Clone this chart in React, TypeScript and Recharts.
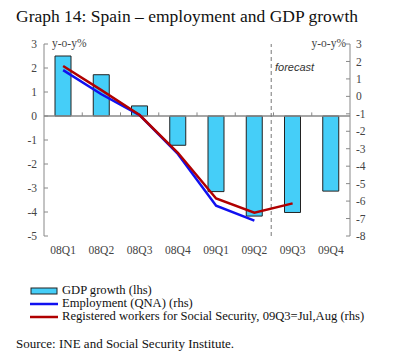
import { ComposedChart, Bar, Line, XAxis, YAxis, ReferenceLine } from "recharts";

const quarters = ["08Q1", "08Q2", "08Q3", "08Q4", "09Q1", "09Q2", "09Q3", "09Q4"];
const gdpGrowth = [2.5, 1.72, 0.42, -1.22, -3.15, -4.17, -4.02, -3.13];
const employment = [1.5, 0.12, -1.07, -3.3, -6.26, -7.12, null, null];
const registered = [1.74, 0.36, -1.07, -3.23, -5.85, -6.66, -6.13, null];
const leftTicks = [3, 2, 1, 0, -1, -2, -3, -4, -5];
const rightTicks = [3, 2, 1, 0, -1, -2, -3, -4, -5, -6, -7, -8];
const boundaries = [1, 2, 3, 4, 5, 6, 7];
const forecastAt = 5.94;

const font = "'Liberation Serif', 'DejaVu Serif', serif";
const axisGray = "#888";
const textGray = "#444";

const data = quarters.map((q, i) => ({
  pos: i + 0.5,
  name: q,
  gdp: gdpGrowth[i],
  emp: employment[i],
  reg: registered[i],
}));

export default function App() {
  return (
    <div style={{ position: "absolute", left: 0, top: 0, width: 400, height: 361, background: "#fff", fontFamily: font }}>
      <div style={{ position: "absolute", left: 16, top: 6, fontSize: 17.5, color: "#111", whiteSpace: "nowrap" }}>
        Graph 14: Spain – employment and GDP growth
      </div>

      <div style={{ position: "absolute", left: 0, top: 0 }}>
        <ComposedChart width={400} height={260} data={data} margin={{ top: 44, right: 10, left: 10, bottom: 4 }}>
          <XAxis
            dataKey="pos"
            type="number"
            domain={[0, 8]}
            ticks={data.map((d) => d.pos)}
            interval={0}
            tickFormatter={(v: number) => quarters[Math.round(v - 0.5)]}
            axisLine={false}
            tickLine={false}
            tickSize={0}
            tickMargin={10}
            height={20}
            tick={{ fill: textGray, fontSize: 11.5, fontFamily: font }}
          />
          <YAxis
            yAxisId="left"
            domain={[-5, 3]}
            ticks={leftTicks}
            interval={0}
            width={34}
            tickSize={-4}
            tickMargin={11}
            stroke={axisGray}
            tick={{ fill: textGray, fontSize: 11.5, fontFamily: font }}
          />
          <YAxis
            yAxisId="right"
            orientation="right"
            domain={[-8, 3]}
            ticks={rightTicks}
            interval={0}
            width={40}
            tickSize={-4}
            tickMargin={10}
            stroke={axisGray}
            tick={{ fill: textGray, fontSize: 11.5, fontFamily: font }}
          />
          <ReferenceLine yAxisId="left" y={0} stroke={axisGray} strokeWidth={1.5} />
          {boundaries.map((b) => (
            <ReferenceLine
              key={b}
              yAxisId="left"
              segment={[{ x: b, y: 0 }, { x: b, y: 0.15 }]}
              stroke={axisGray}
            />
          ))}
          <ReferenceLine yAxisId="left" x={forecastAt} stroke="#777" strokeDasharray="4 3" />
          <Bar yAxisId="left" dataKey="gdp" barSize={16} fill="#45CEF8" stroke="#222" strokeWidth={1} isAnimationActive={false} />
          <Line yAxisId="right" dataKey="emp" stroke="#1010F0" strokeWidth={2.5} dot={false} connectNulls={false} isAnimationActive={false} />
          <Line yAxisId="right" dataKey="reg" stroke="#B00000" strokeWidth={2.5} dot={false} connectNulls={false} isAnimationActive={false} />
        </ComposedChart>
      </div>

      <div style={{ position: "absolute", left: 52, top: 37, fontSize: 11.5, color: textGray }}>y-o-y%</div>
      <div style={{ position: "absolute", right: 54, top: 37, fontSize: 11.5, color: textGray }}>y-o-y%</div>
      <div style={{ position: "absolute", left: 275, top: 61, fontSize: 11, fontStyle: "italic", color: "#333", fontFamily: "'Liberation Sans', Arial, sans-serif" }}>forecast</div>

      <div style={{ position: "absolute", left: 30, top: 284, fontSize: 12.6, color: "#111", lineHeight: "13px" }}>
        <div style={{ display: "flex", alignItems: "center" }}>
          <svg width={30} height={13}>
            <rect x={1} y={4} width={26} height={6} fill="#45CEF8" stroke="#222" strokeWidth={1} />
          </svg>
          <span style={{ marginLeft: 2 }}>GDP growth (lhs)</span>
        </div>
        <div style={{ display: "flex", alignItems: "center" }}>
          <svg width={30} height={13}>
            <line x1={0} y1={7} x2={28} y2={7} stroke="#1010F0" strokeWidth={2.5} />
          </svg>
          <span style={{ marginLeft: 2 }}>Employment (QNA) (rhs)</span>
        </div>
        <div style={{ display: "flex", alignItems: "center" }}>
          <svg width={30} height={13}>
            <line x1={0} y1={7} x2={28} y2={7} stroke="#B00000" strokeWidth={2.5} />
          </svg>
          <span style={{ marginLeft: 2, whiteSpace: "nowrap" }}>Registered workers for Social Security, 09Q3=Jul,Aug (rhs)</span>
        </div>
      </div>

      <div style={{ position: "absolute", left: 16, top: 336, fontSize: 13, color: "#111", whiteSpace: "nowrap" }}>
        Source: INE and Social Security Institute.
      </div>
    </div>
  );
}
